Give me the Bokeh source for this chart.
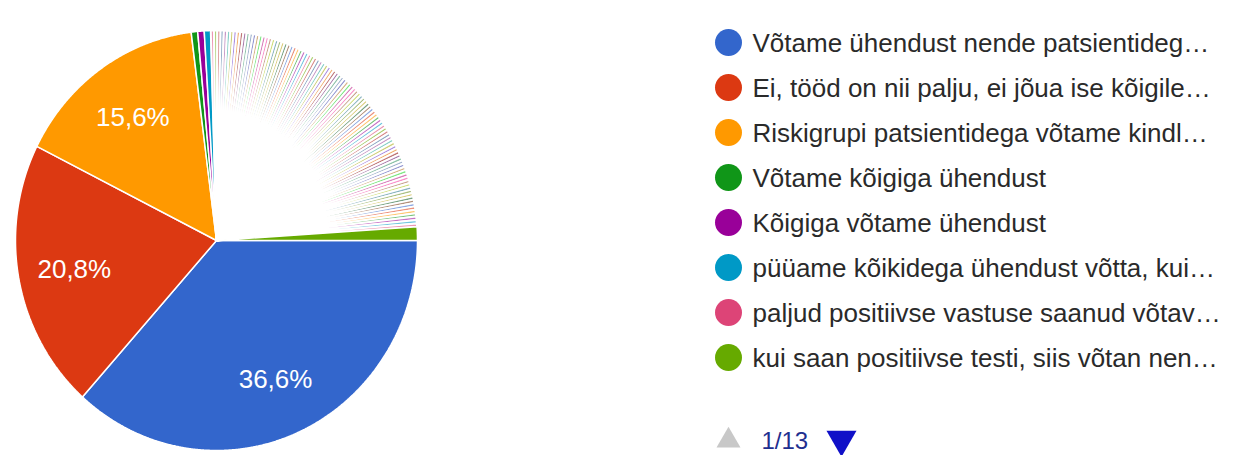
import numpy as np
from bokeh.plotting import figure
from bokeh.models import Range1d
from bokeh.embed import file_html
from bokeh.resources import INLINE
from bokeh.core.properties import value

# ---- data (page 1 of 13 of the legend, 101 answers in the pie) ----
legend_labels = [
    "Võtame ühendust nende patsientideg…",
    "Ei, tööd on nii palju, ei jõua ise kõigile…",
    "Riskigrupi patsientidega võtame kindl…",
    "Võtame kõigiga ühendust",
    "Kõigiga võtame ühendust",
    "püüame kõikidega ühendust võtta, kui…",
    "paljud positiivse vastuse saanud võtav…",
    "kui saan positiivse testi, siis võtan nen…",
]
counts = [
    141, 80, 60, 2, 2, 2, 1, 1,
    1, 1, 1, 1, 1, 1, 1, 1, 1, 1,
    1, 1, 1, 1, 1, 1, 1, 1, 1, 1,
    1, 1, 1, 1, 1, 1, 1, 1, 1, 1,
    1, 1, 1, 1, 1, 1, 1, 1, 1, 1,
    1, 1, 1, 1, 1, 1, 1, 1, 1, 1,
    1, 1, 1, 1, 1, 1, 1, 1, 1, 1,
    1, 1, 1, 1, 1, 1, 1, 1, 1, 1,
    1, 1, 1, 1, 1, 1, 1, 1, 1, 1,
    1, 1, 1, 1, 1, 1, 1, 1, 1, 1,
    1, 1,
    4,
]
palette = [
    "#3366cc", "#dc3912", "#ff9900", "#109618", "#990099", "#0099c6",
    "#dd4477", "#66aa00", "#b82e2e", "#316395", "#994499", "#22aa99",
    "#aaaa11", "#6633cc", "#e67300", "#8b0707", "#651067", "#329262",
    "#5574a6", "#3b3eac", "#b77322", "#16d620", "#b91383", "#f4359e",
    "#9c5935", "#a9c413", "#2a778d", "#668d1c", "#bea413", "#0c5922",
    "#743411",
]
page_text = "1/13"

FONT = value("Liberation Sans")
W, H = 1237, 455
p = figure(width=W, height=H, x_range=Range1d(0, W), y_range=Range1d(0, H),
           output_backend="svg", toolbar_location=None, min_border=0)
p.xaxis.visible = False
p.yaxis.visible = False
p.xgrid.visible = False
p.ygrid.visible = False
p.outline_line_color = None
p.background_fill_color = "white"
p.border_fill_color = "white"

# ---- pie (starts at 3 o'clock, clockwise; picture is slightly stretched vertically) ----
cx, cy, rx, ry = 216, 215, 201, 210
total = float(sum(counts))
fr = np.cumsum([0] + counts) / total
shares = np.array(counts) / total
xs, ys = [], []
for a, b in zip(fr[:-1], fr[1:]):
    n = max(4, int(np.ceil((b - a) * 1440)))
    t = -2 * np.pi * np.linspace(a, b, n)
    xs.append(np.concatenate([[cx], cx + rx * np.cos(t)]))
    ys.append(np.concatenate([[cy], cy + ry * np.sin(t)]))
colors = [palette[i % len(palette)] for i in range(len(counts))]
small = shares < 0.05
tiny = shares < 0.005
lws = np.where(tiny, 2.0, 1.5)
alphas = np.where(tiny, 0.55, 1.0)
p.patches(xs, ys, fill_color=colors, fill_alpha=alphas, line_color="white", line_width=lws)

# ---- percentage labels ----
mids = (fr[:-1] + fr[1:]) / 2
big = ~small
lab_t = -2 * np.pi * mids[big]
lab_x = cx + 0.72 * rx * np.cos(lab_t)
lab_y = cy + 0.72 * ry * np.sin(lab_t)
lab_txt = [f"{s * 100:.1f}".replace(".", ",") + "%" for s in shares[big]]
p.text(lab_x, lab_y, text=lab_txt, text_color="white", text_font=FONT,
       text_font_size="26px", text_align="center", text_baseline="middle")

# ---- legend ----
rows = np.arange(len(legend_labels))
ly = 413 - 45 * rows
p.scatter(np.full(len(rows), 728), ly, size=27, marker="circle",
          fill_color=palette[:len(legend_labels)], line_color=None)
p.text(np.full(len(rows), 752), ly, text=legend_labels, text_color="#2a2a2a",
       text_font=FONT, text_font_size="26px", text_align="left",
       text_baseline="middle")

# ---- pagination ----
p.scatter([728], [15], marker="triangle", size=24, fill_color="#c8c8c8", line_color=None)
p.text([761], [15], text=[page_text], text_color="#1f2f8f", text_font=FONT,
       text_font_size="24px", text_align="left", text_baseline="middle")
p.scatter([841], [16], marker="inverted_triangle", size=30, fill_color="#1010c8", line_color=None)

open("out.html", "w").write(file_html(p, INLINE))
